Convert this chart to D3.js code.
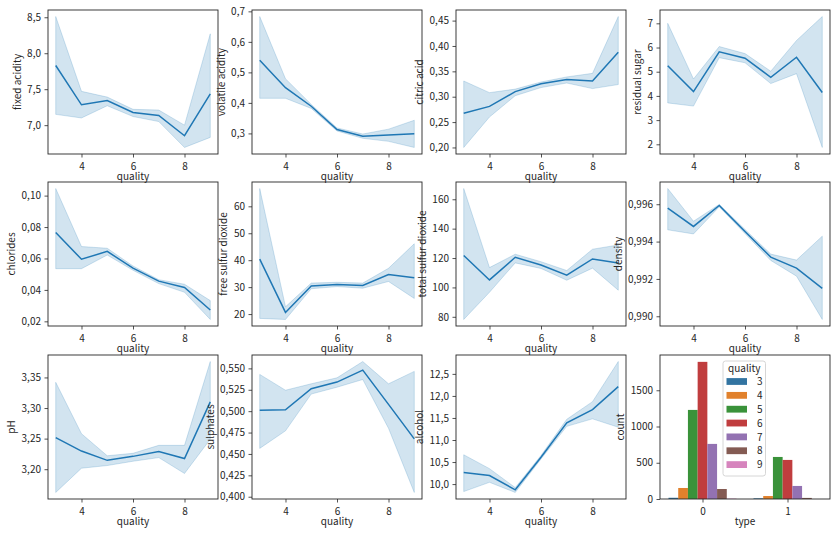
<!DOCTYPE html>
<html><head><meta charset="utf-8">
<script src="https://cdn.jsdelivr.net/npm/d3@7"></script>
<style>
body{margin:0;background:#fff;}
svg text{font-family:"Noto Sans CJK KR","Noto Sans",sans-serif;fill:#262626;}
</style></head>
<body><svg id="c" width="836" height="535"></svg>
<script>
const quality = [3,4,5,6,7,8,9];
const xTicks = [4,6,8];

const fixedAcidity = [7.829,7.283,7.343,7.176,7.135,6.853,7.436];
const fixedAcidityLo = [7.15,7.10,7.27,7.12,7.05,6.69,6.83];
const fixedAcidityHi = [8.51,7.47,7.39,7.22,7.21,7.00,8.27];

const volatileAcidity = [0.540,0.450,0.389,0.313,0.291,0.295,0.299];
const volatileAcidityLo = [0.415,0.415,0.382,0.308,0.284,0.274,0.254];
const volatileAcidityHi = [0.683,0.479,0.395,0.318,0.298,0.314,0.343];

const citricAcid = [0.2675,0.281,0.310,0.3254,0.334,0.331,0.3876];
const citricAcidLo = [0.200,0.260,0.302,0.318,0.327,0.316,0.324];
const citricAcidHi = [0.331,0.308,0.315,0.329,0.339,0.346,0.458];

const residualSugar = [5.25,4.18,5.82,5.56,4.77,5.60,4.14];
const residualSugarLo = [3.71,3.58,5.58,5.37,4.51,4.92,1.87];
const residualSugarHi = [7.00,4.70,6.04,5.75,5.02,6.29,7.28];

const chlorides = [0.0765,0.0595,0.0645,0.0538,0.0456,0.0415,0.0272];
const chloridesLo = [0.0535,0.0535,0.0622,0.0525,0.0440,0.0385,0.0212];
const chloridesHi = [0.1045,0.0676,0.0665,0.0552,0.0465,0.0436,0.0332];

const freeSulfur = [40.4,20.6,30.4,31.0,30.6,34.7,33.5];
const freeSulfurLo = [18.4,18.0,29.4,30.2,29.6,32.1,25.8];
const freeSulfurHi = [66.6,22.7,31.5,31.8,31.5,37.0,46.1];

const totalSulfur = [121.7,105.1,120.5,115.3,108.3,119.4,116.7];
const totalSulfurLo = [78.2,96.7,116.7,112.9,104.9,113.1,98.1];
const totalSulfurHi = [167.3,113.5,122.6,117.5,111.5,126.0,128.9];

const density = [0.99579,0.99481,0.99593,0.99454,0.99317,0.99258,0.99149];
const densityLo = [0.99463,0.99441,0.99586,0.99443,0.99299,0.99215,0.98983];
const densityHi = [0.99684,0.99509,0.99599,0.99465,0.99333,0.99301,0.99429];

const pH = [3.2516,3.2297,3.2145,3.221,3.229,3.2175,3.310];
const pHLo = [3.162,3.2016,3.206,3.213,3.219,3.193,3.249];
const pHHi = [3.342,3.258,3.222,3.226,3.239,3.239,3.376];

const sulphates = [0.5012,0.5016,0.5262,0.534,0.548,0.508,0.4676];
const sulphatesLo = [0.4565,0.477,0.520,0.528,0.537,0.480,0.405];
const sulphatesHi = [0.543,0.5245,0.532,0.539,0.558,0.532,0.5465];

const alcohol = [10.26,10.195,9.87,10.61,11.39,11.69,12.21];
const alcoholLo = [9.83,10.04,9.81,10.57,11.31,11.48,11.29];
const alcoholHi = [10.665,10.35,9.92,10.65,11.47,11.87,12.78];

const panels = [
  {label:"fixed acidity", y:fixedAcidity, lo:fixedAcidityLo, hi:fixedAcidityHi, ticks:[7.0,7.5,8.0,8.5], dec:1},
  {label:"volatile acidity", y:volatileAcidity, lo:volatileAcidityLo, hi:volatileAcidityHi, ticks:[0.3,0.4,0.5,0.6,0.7], dec:1},
  {label:"citric acid", y:citricAcid, lo:citricAcidLo, hi:citricAcidHi, ticks:[0.20,0.25,0.30,0.35,0.40,0.45], dec:2},
  {label:"residual sugar", y:residualSugar, lo:residualSugarLo, hi:residualSugarHi, ticks:[2,3,4,5,6,7], dec:0},
  {label:"chlorides", y:chlorides, lo:chloridesLo, hi:chloridesHi, ticks:[0.02,0.04,0.06,0.08,0.10], dec:2},
  {label:"free sulfur dioxide", y:freeSulfur, lo:freeSulfurLo, hi:freeSulfurHi, ticks:[20,30,40,50,60], dec:0},
  {label:"total sulfur dioxide", y:totalSulfur, lo:totalSulfurLo, hi:totalSulfurHi, ticks:[80,100,120,140,160], dec:0},
  {label:"density", y:density, lo:densityLo, hi:densityHi, ticks:[0.990,0.992,0.994,0.996], dec:3},
  {label:"pH", y:pH, lo:pHLo, hi:pHHi, ticks:[3.20,3.25,3.30,3.35], dec:2},
  {label:"sulphates", y:sulphates, lo:sulphatesLo, hi:sulphatesHi, ticks:[0.400,0.425,0.450,0.475,0.500,0.525,0.550], dec:3},
  {label:"alcohol", y:alcohol, lo:alcoholLo, hi:alcoholHi, ticks:[10.0,10.5,11.0,11.5,12.0,12.5], dec:1}
];

const types = ["0","1"];
const countTicks = [0,500,1000,1500];
const countType0 = [17,152,1229,1892,760,138,5];
const countType1 = [9,41,580,539,180,15,0];
const hueColors = ["#3274a1","#e1812c","#3a923a","#c03d3e","#9372b2","#845b53","#d684bd"];

const colLeft = [48,252,456,660];
const rowTop = [10,182,355];
const W = 170, H = 144;
const FS = 10;
const svg = d3.select("#c");
const fmt = dec => v => v.toFixed(dec).replace(".", ",");

function frame(g, x, y, xt, xfmt, yt, yfmt, xlabel, ylabel){
  const xa = g.append("g").attr("transform",`translate(0,${H})`)
    .call(d3.axisBottom(x).tickValues(xt).tickFormat(xfmt).tickSize(3.5).tickPadding(3.5));
  xa.selectAll("text").attr("y",16).attr("dy",null);
  const ya = g.append("g")
    .call(d3.axisLeft(y).tickValues(yt).tickFormat(yfmt).tickSize(3.5).tickPadding(3.5));
  [xa,ya].forEach(a=>{
    a.select(".domain").remove();
    a.selectAll("line").attr("stroke","#262626").attr("stroke-width",0.8);
    a.selectAll("text").attr("font-size",FS).style("fill","#262626");
  });
  g.append("rect").attr("width",W).attr("height",H).attr("fill","none")
    .attr("stroke","#262626").attr("stroke-width",0.9);
  g.append("text").attr("x",W/2).attr("y",H+25.5).attr("text-anchor","middle")
    .attr("font-size",FS).text(xlabel);
  let minX = 0;
  ya.selectAll("text").each(function(){ const b=this.getBBox(); minX=Math.min(minX,b.x); });
  g.append("text").attr("transform",`translate(${minX-6.5},${H/2}) rotate(-90)`)
    .attr("text-anchor","middle").attr("font-size",FS).text(ylabel);
}

panels.forEach((p,i)=>{
  const r = Math.floor(i/4), c = i%4;
  const g = svg.append("g").attr("transform",`translate(${colLeft[c]},${rowTop[r]})`);
  const x = d3.scaleLinear().domain([2.7,9.3]).range([0,W]);
  const mn = d3.min(p.lo), mx = d3.max(p.hi), pad=(mx-mn)*0.05;
  const y = d3.scaleLinear().domain([mn-pad,mx+pad]).range([H,0]);
  const rows = quality.map((q,k)=>({q, v:p.y[k], lo:p.lo[k], hi:p.hi[k]}));
  g.append("path").datum(rows)
    .attr("d", d3.area().x(d=>x(d.q)).y0(d=>y(d.lo)).y1(d=>y(d.hi)))
    .attr("fill","#1f77b4").attr("fill-opacity",0.2)
    .attr("stroke","#1f77b4").attr("stroke-opacity",0.2).attr("stroke-width",1);
  g.append("path").datum(rows)
    .attr("d", d3.line().x(d=>x(d.q)).y(d=>y(d.v)))
    .attr("fill","none").attr("stroke","#1f77b4").attr("stroke-width",1.5);
  frame(g, x, y, xTicks, d3.format("d"), p.ticks, fmt(p.dec), "quality", p.label);
});

// count plot
{
  const g = svg.append("g").attr("transform",`translate(${colLeft[3]},${rowTop[2]})`);
  const x = d3.scaleLinear().domain([-0.5,1.5]).range([0,W]);
  const hue = d3.scaleBand().domain(quality).range([-0.4,0.4]);
  const maxC = d3.max(countType0.concat(countType1));
  const y = d3.scaleLinear().domain([0,maxC*1.05]).range([H,0]);
  const counts = [countType0,countType1];
  counts.forEach((arr,t)=>{
    quality.forEach((q,k)=>{
      g.append("rect")
        .attr("x", x(t+hue(q))).attr("width", x(hue.bandwidth())-x(0))
        .attr("y", y(arr[k])).attr("height", y(0)-y(arr[k]))
        .attr("fill", hueColors[k]);
    });
  });
  frame(g, x, y, [0,1], d3.format("d"), countTicks, d3.format("d"), "type", "count");
  // legend
  const lg = g.append("g").attr("transform","translate(63,6)");
  lg.append("rect").attr("x",0).attr("y",0).attr("width",42.5).attr("height",115)
    .attr("rx",2.5).attr("fill","#fff").attr("fill-opacity",0.8)
    .attr("stroke","#cccccc").attr("stroke-width",0.8);
  lg.append("text").attr("x",21.25).attr("y",11).attr("text-anchor","middle")
    .attr("font-size",FS).text("quality");
  quality.forEach((q,k)=>{
    const cy = 20.5 + k*13.85;
    lg.append("rect").attr("x",3.5).attr("y",cy-3.4).attr("width",20.5).attr("height",6.8)
      .attr("fill",hueColors[k]);
    lg.append("text").attr("x",34).attr("y",cy+3.6).attr("font-size",FS).text(q);
  });
}
</script></body></html>
